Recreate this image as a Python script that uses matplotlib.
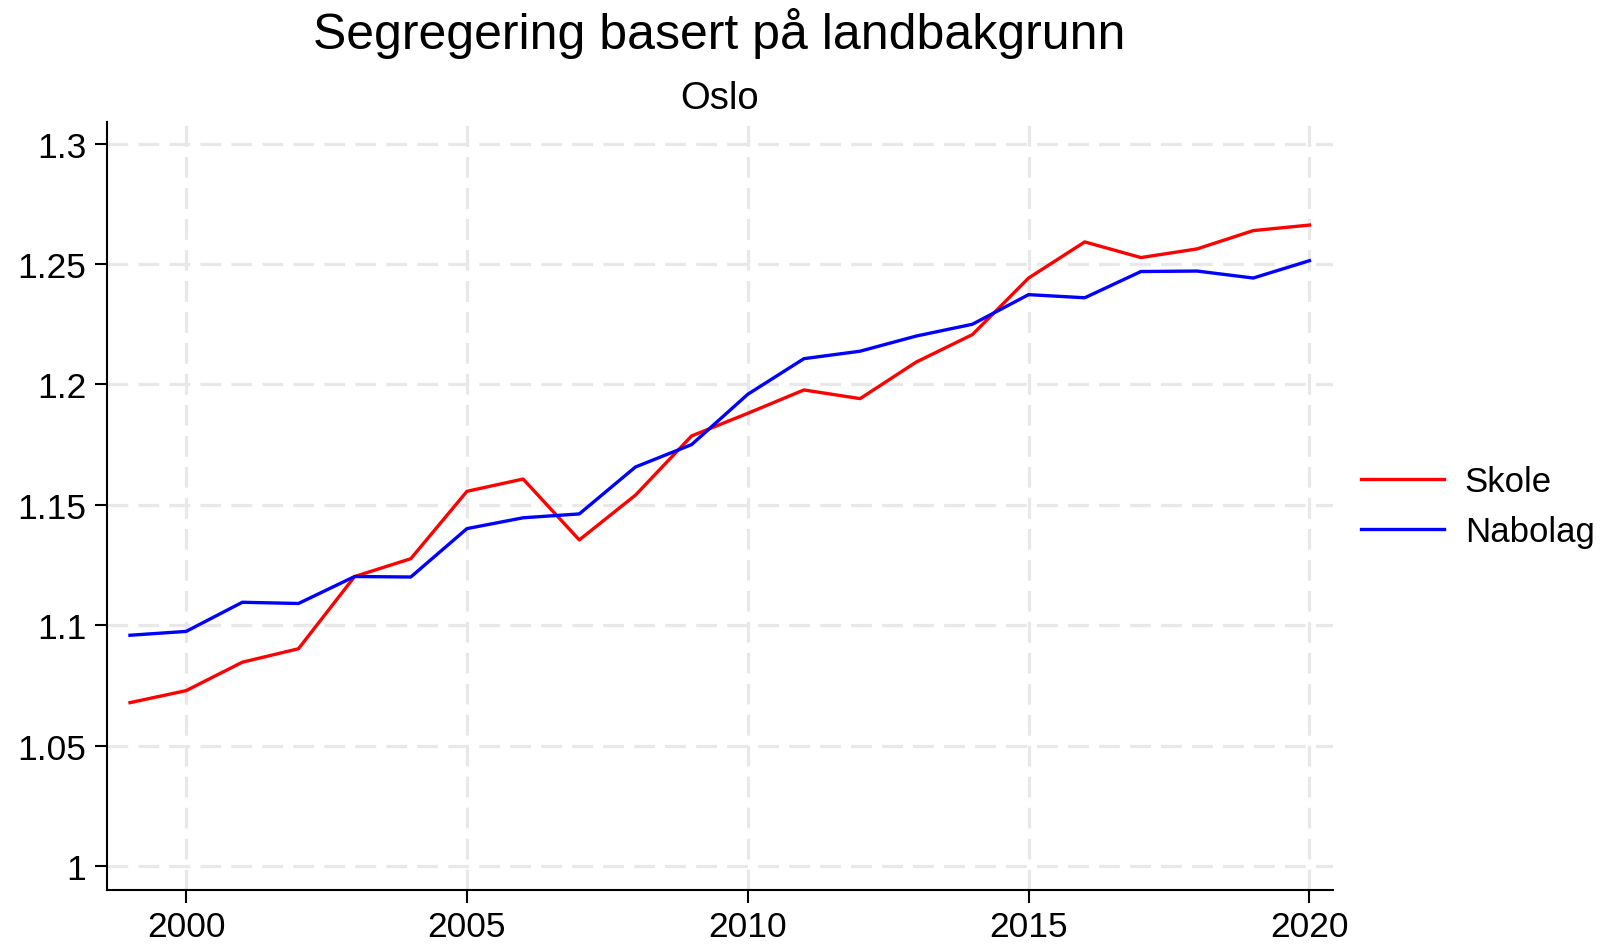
import matplotlib
matplotlib.use("Agg")
import matplotlib.pyplot as plt

years = list(range(1999, 2021))
skole = [1.0678, 1.0728, 1.0846, 1.0902, 1.1202, 1.1276, 1.1556, 1.1607, 1.1354, 1.1540,
         1.1786, 1.1880, 1.1977, 1.1941, 1.2093, 1.2207, 1.2442, 1.2592, 1.2527, 1.2563,
         1.2639, 1.2662]
nabolag = [1.0958, 1.0974, 1.1095, 1.1090, 1.1202, 1.1200, 1.1401, 1.1446, 1.1462, 1.1657,
           1.1750, 1.1959, 1.2107, 1.2138, 1.2201, 1.2250, 1.2373, 1.2360, 1.2469, 1.2471,
           1.2442, 1.2514]
xticks = [2000, 2005, 2010, 2015, 2020]
yticks = [1.0, 1.05, 1.1, 1.15, 1.2, 1.25, 1.3]
ylabels = ["1", "1.05", "1.1", "1.15", "1.2", "1.25", "1.3"]

plt.rcParams['font.family'] = ['Liberation Sans', 'DejaVu Sans']

fig = plt.figure(figsize=(16.06, 9.45), dpi=100)
ax = fig.add_axes([0.0666, 0.0576, 0.830 - 0.0666, 0.8703 - 0.0576])

ax.plot(years, skole, color="#ff0000", lw=2.4, label="Skole", zorder=3)
ax.plot(years, nabolag, color="#0000ff", lw=2.4, label="Nabolag", zorder=3)

ax.set_xlim(1998.59, 2020.42)
ax.set_ylim(0.99015, 1.3092)
ax.set_xticks(xticks)
ax.set_xticklabels([str(x) for x in xticks])
ax.set_yticks(yticks)
ax.set_yticklabels(ylabels)

ax.grid(True, color="#e8e8e8", lw=2.3, ls=(0, (6.5, 3.2)), zorder=0)
ax.set_axisbelow(True)

for s in ["top", "right"]:
    ax.spines[s].set_visible(False)
for s in ["left", "bottom"]:
    ax.spines[s].set_linewidth(1.5)
    ax.spines[s].set_color("black")

ax.tick_params(axis="both", direction="out", length=9, width=1.5, labelsize=25.5, pad=6, colors="black")

fig.text(0.448, 0.992, "Segregering basert på landbakgrunn", ha="center", va="top", fontsize=36)
fig.text(0.448, 0.895, "Oslo", ha="center", va="center", fontsize=27.5)

leg = fig.legend(loc="center left", bbox_to_anchor=(0.8385, 0.463), frameon=False, fontsize=25,
                 handlelength=2.4, handletextpad=0.6, labelspacing=0.5, borderaxespad=0)

fig.savefig("out.png", dpi=100, facecolor="white")
